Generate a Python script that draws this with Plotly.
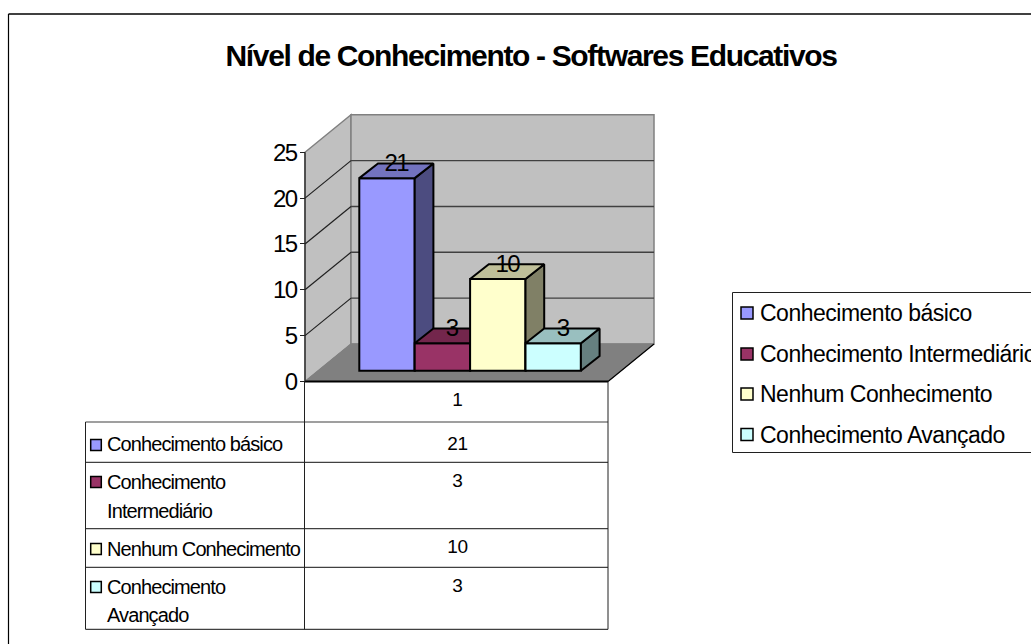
import plotly.graph_objects as go

# ---- data ----
TITLE = "Nível de Conhecimento - Softwares Educativos"
CATEGORY = "1"
SERIES = ["Conhecimento básico", "Conhecimento Intermediário", "Nenhum Conhecimento", "Conhecimento Avançado"]
TABLE_LINES = [["Conhecimento básico"], ["Conhecimento", "Intermediário"], ["Nenhum Conhecimento"], ["Conhecimento", "Avançado"]]
VALUES = [21, 3, 10, 3]
COLORS = ["#9999FF", "#993366", "#FFFFCC", "#CCFFFF"]
TICKS = [0, 5, 10, 15, 20, 25]

# ---- layout geometry (page pixels) ----
W, H = 1031, 644
Y0_PX = 381.5          # pixel of value 0 on the front plane
PX_PER_UNIT = 9.17
def v_at(px):          # value-axis coordinate of a page pixel row
    return (Y0_PX - px) / PX_PER_UNIT
def xp(px): return px / W
def yp(px): return 1 - px / H

FRONT_L, FRONT_R = 305, 608
WALL_DX, WALL_DV = 46, 37.5 / PX_PER_UNIT
BAR_LEFT, BAR_W = 359.3, 55.4
BAR_BASE = (Y0_PX - 370.7) / PX_PER_UNIT
BAR_DX, BAR_DV = 18.7, 14.7 / PX_PER_UNIT

def shade(hex_color, f):
    r, g, b = (int(hex_color[i:i + 2], 16) for i in (1, 3, 5))
    return f"rgb({round(r * f)},{round(g * f)},{round(b * f)})"

fig = go.Figure()
shapes, annotations = [], []

def poly(pts, fill, line, lw=1, layer="below"):
    path = "M" + "L".join(f"{x},{y}" for x, y in pts) + "Z"
    shapes.append(dict(type="path", path=path, xref="x", yref="y", fillcolor=fill,
                       line=dict(color=line, width=lw), layer=layer))

def seg(x0, y0, x1, y1, color="#000000", lw=1, layer="below"):
    shapes.append(dict(type="line", x0=x0, y0=y0, x1=x1, y1=y1, xref="x", yref="y",
                       line=dict(color=color, width=lw), layer=layer))

# walls and floor
top = TICKS[-1]
poly([(FRONT_L, 0), (FRONT_L, top), (FRONT_L + WALL_DX, top + WALL_DV), (FRONT_L + WALL_DX, WALL_DV)],
     "#C0C0C0", "#808080", 1.5)
poly([(FRONT_L + WALL_DX, WALL_DV), (FRONT_L + WALL_DX, top + WALL_DV),
      (FRONT_R + WALL_DX, top + WALL_DV), (FRONT_R + WALL_DX, WALL_DV)], "#C0C0C0", "#808080", 1.5)
poly([(FRONT_L, 0), (FRONT_L + WALL_DX, WALL_DV), (FRONT_R + WALL_DX, WALL_DV), (FRONT_R, 0)], "#808080", "#808080", 1)
for t in TICKS[1:-1]:
    seg(FRONT_L, t, FRONT_L + WALL_DX, t + WALL_DV, "#202020", 1.2)
    seg(FRONT_L + WALL_DX, t + WALL_DV, FRONT_R + WALL_DX, t + WALL_DV, "#404040", 1.4)
seg(FRONT_L, 0, FRONT_R, 0, "#000000", 2)
seg(FRONT_R, 0, FRONT_R + WALL_DX, WALL_DV, "#000000", 1.2)
seg(FRONT_L, 0, FRONT_L, top, "#202020", 1.2)

# bars: each series in its own overlaid subplot so later bars cover earlier ones
axis_layout = {}
for i, (name, val, col) in enumerate(zip(SERIES, VALUES, COLORS)):
    n = i + 2
    xa, ya = f"x{n}", f"y{n}"
    axis_layout[f"xaxis{n}"] = dict(range=[0, W], domain=[0, 1], visible=False, overlaying="x", anchor=ya, fixedrange=True)
    axis_layout[f"yaxis{n}"] = dict(range=[v_at(H), v_at(0)], domain=[0, 1], visible=False, overlaying="y", anchor=xa, fixedrange=True)
    left = BAR_LEFT + i * BAR_W
    right = left + BAR_W
    h = BAR_BASE + val
    fig.add_trace(go.Bar(x=[left + BAR_W / 2], y=[val], base=[BAR_BASE], width=[BAR_W], name=name,
                         marker=dict(color=col, line=dict(color="#000000", width=2)),
                         showlegend=False, xaxis=xa, yaxis=ya))
    fig.add_trace(go.Scatter(x=[right, right + BAR_DX, right + BAR_DX, right, right],
                             y=[BAR_BASE, BAR_BASE + BAR_DV, h + BAR_DV, h, BAR_BASE],
                             mode="lines", fill="toself", fillcolor=shade(col, 0.5),
                             line=dict(color="#000000", width=2), showlegend=False, xaxis=xa, yaxis=ya, hoverinfo="skip"))
    fig.add_trace(go.Scatter(x=[left, left + BAR_DX, right + BAR_DX, right, left],
                             y=[h, h + BAR_DV, h + BAR_DV, h, h],
                             mode="lines", fill="toself", fillcolor=shade(col, 0.75),
                             line=dict(color="#000000", width=2), showlegend=False, xaxis=xa, yaxis=ya, hoverinfo="skip"))
    annotations.append(dict(x=left + BAR_W / 2 + BAR_DX / 2, y=h + 16 / PX_PER_UNIT, xref="x", yref="y", text=str(val),
                            showarrow=False, font=dict(size=24, color="#000000"), xanchor="center", yanchor="middle"))

def label(px, py, text, size, anchor="left"):
    annotations.append(dict(x=xp(px), y=yp(py), xref="paper", yref="paper", text=text, showarrow=False,
                            font=dict(size=size, color="#000000"), xanchor=anchor, yanchor="middle",
                            borderpad=0, borderwidth=0))

def pline(x0, y0, x1, y1, color="#000000", lw=1):
    shapes.append(dict(type="line", xref="paper", yref="paper", x0=xp(x0), x1=xp(x1), y0=yp(y0), y1=yp(y1),
                       line=dict(color=color, width=lw), layer="above"))

def swatch(x0, y0, x1, y1, col):
    shapes.append(dict(type="rect", xref="paper", yref="paper", x0=xp(x0), x1=xp(x1), y0=yp(y0), y1=yp(y1),
                       fillcolor=col, line=dict(color="#000000", width=1.5), layer="above"))

# outer chart border (only left and top reach inside the page)
pline(8.5, 14, W + 5, 14, "#000000", 1.6)
pline(8.5, 14, 8.5, H + 5, "#000000", 1.2)

# data table
ROW_Y = [422, 462.3, 528.7, 567.3, 629.3]
for y in ROW_Y:
    pline(85.5, y, FRONT_R, y, "#404040", 1.2)
pline(85.5, 422, 85.5, 629.3, "#202020", 1)
pline(304.5, Y0_PX, 304.5, 629.3, "#202020", 1)
pline(FRONT_R, Y0_PX, FRONT_R, 629.3, "#202020", 1)
label(457, 400, CATEGORY, 19, "center")
TABLE_VAL_Y = [443, 480, 546, 585]
TABLE_SW_Y = [445, 482, 549, 587]
TABLE_TXT_Y = [[444], [482, 511], [549], [587, 615]]
for i in range(4):
    label(457, TABLE_VAL_Y[i], str(VALUES[i]), 19, "center")
    swatch(90.7, TABLE_SW_Y[i] - 5.5, 101.3, TABLE_SW_Y[i] + 5.5, COLORS[i])
    for line, y in zip(TABLE_LINES[i], TABLE_TXT_Y[i]):
        label(107, y, line, 20)

# legend box
shapes.append(dict(type="rect", xref="paper", yref="paper", x0=xp(732.5), x1=xp(W + 10), y0=yp(292.5), y1=yp(452.5),
                   line=dict(color="#202020", width=1), layer="above"))
LEG_Y = [313, 354, 394, 434.5]
for i in range(4):
    swatch(741, LEG_Y[i] - 6, 753, LEG_Y[i] + 6, COLORS[i])
    label(760, LEG_Y[i], SERIES[i], 23)

# title
annotations.append(dict(x=xp(531), y=yp(56), xref="paper", yref="paper", text=f"<b>{TITLE}</b>", showarrow=False,
                        font=dict(size=30, color="#000000"), xanchor="center", yanchor="middle"))

fig.update_layout(
    width=W, height=H, margin=dict(l=0, r=0, t=0, b=0), autosize=False,
    paper_bgcolor="#FFFFFF", plot_bgcolor="rgba(0,0,0,0)", barmode="overlay",
    font=dict(family="Liberation Sans, Arial, sans-serif", color="#000000"),
    xaxis=dict(range=[0, W], domain=[0, 1], visible=False, fixedrange=True),
    yaxis=dict(range=[v_at(H), v_at(0)], domain=[0, 1], anchor="free", position=FRONT_L / W, side="left",
               tickmode="array", tickvals=TICKS, ticks="outside", ticklen=5, tickcolor="#202020",
               tickfont=dict(size=24), showgrid=False, zeroline=False, showline=False, fixedrange=True),
    shapes=shapes, annotations=annotations, showlegend=False, **axis_layout,
)
# an empty trace on the base subplot keeps the main axes and their shapes in place
fig.add_trace(go.Scatter(x=[], y=[], xaxis="x", yaxis="y", showlegend=False))

# tighter letter spacing; left-aligned labels keep their left edge after the squeeze
POST = """
document.documentElement.style.margin='0';document.body.style.margin='0';document.body.style.overflow='hidden';
var spacing={'30':'-1.34px','24':'-1.5px','23':'-0.5px','20':'-0.9px','19':'-0.3px'};
var keepLeft={'23':1,'20':1};
document.querySelectorAll('.annotation-text').forEach(function(t){
  var s=String(parseFloat(t.style.fontSize));
  if(!spacing[s]) return;
  var before=t.getBBox().x;
  t.style.letterSpacing=spacing[s];
  if(keepLeft[s]){
    var after=t.getBBox().x;
    t.setAttribute('x', parseFloat(t.getAttribute('x'))+(before-after));
  }
});
document.querySelectorAll('.ytick text').forEach(function(t){
  t.style.letterSpacing='-1.5px';
  t.setAttribute('x', parseFloat(t.getAttribute('x'))+1.5);
});
"""
fig.write_html("out.html", post_script=POST, config=dict(displayModeBar=False))
